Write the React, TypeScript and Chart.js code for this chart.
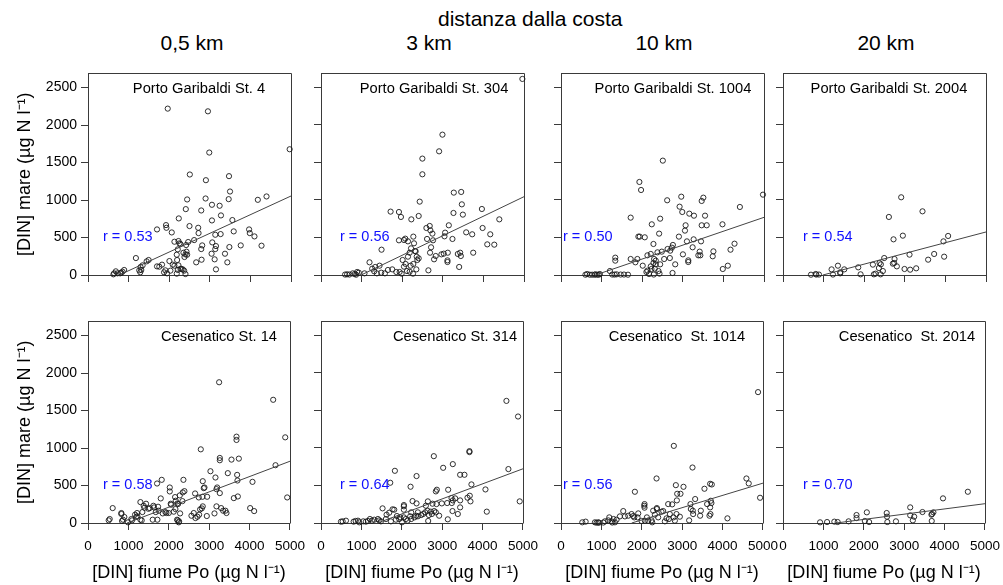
import React, { useEffect, useRef } from 'react';
import { Chart, registerables } from 'chart.js';

Chart.register(...registerables);

const FONT = "'Liberation Sans', Arial, Helvetica, sans-serif";

// ---------------- data ----------------
const headerTitle = 'distanza dalla costa';
const distanceLabels = ['0,5 km', '3 km', '10 km', '20 km'];
const stationNames = [
  'Porto Garibaldi St. 4', 'Porto Garibaldi St. 304', 'Porto Garibaldi St. 1004', 'Porto Garibaldi St. 2004',
  'Cesenatico St. 14', 'Cesenatico St. 314', 'Cesenatico  St. 1014', 'Cesenatico  St. 2014',
];
const rValues = ['0.53', '0.56', '0.50', '0.54', '0.58', '0.64', '0.56', '0.70'];
const xTickValues = [0, 1000, 2000, 3000, 4000, 5000];
const yTickValues = [0, 500, 1000, 1500, 2000, 2500];
const xAxisTitle = '[DIN] fiume Po (µg N l⁻¹)';
const yAxisTitle = '[DIN] mare (µg N l⁻¹)';
// regression lines: x where fit crosses 0, and fit value at x = 5000
const fitStartX = [770, 989, 850, 984, 966, 1400, 1750, 1312];
const fitEndY = [1054, 1043, 768, 573, 824, 722, 531, 257];

const pgSt4 = [[1964,2220],[2954,2184],[2987,1634],[4967,1678],[2508,1341],[2904,1265],[3473,1319],[3498,1114],[2896,1021],[2442,1008],[3465,1012],[4397,1048],[4183,1003],[3053,937],[3242,924],[2409,879],[2789,861],[3275,795],[3053,728],[2236,755],[3556,733],[1700,608],[1922,666],[1931,630],[2063,568],[2500,653],[2714,630],[2723,559],[3589,582],[3968,608],[3985,559],[4100,515],[4274,391],[3762,395],[3482,373],[3374,284],[3432,169],[3152,75],[3135,537],[3267,546],[3152,386],[3135,346],[3119,209],[3044,284],[3061,435],[2813,395],[2789,346],[2797,204],[2665,169],[2615,466],[2467,440],[2417,400],[2426,311],[2129,444],[2228,453],[2252,422],[2211,342],[2277,413],[2186,271],[2195,200],[2228,129],[2351,297],[2401,275],[2376,240],[2302,80],[2335,75],[2368,58],[2401,13],[2277,84],[2005,186],[2087,138],[2129,124],[2030,58],[1906,62],[1873,36],[1947,22],[2186,18],[1700,115],[1757,111],[1823,138],[1493,200],[1444,182],[1345,129],[1295,107],[1262,62],[1287,36],[1180,226],[1312,67],[850,44],[891,67],[792,22],[726,22],[644,22],[627,9],[685,49],[817,31],[2211,67],[2442,271]];

const pgSt304 = [[4960,2611],[2991,1869],[2909,1647],[2497,1550],[2497,1341],[3271,1097],[3453,1106],[3469,941],[2431,977],[3263,826],[3494,804],[3963,879],[4392,741],[1714,844],[1920,839],[1969,773],[2225,741],[2406,786],[3148,662],[2596,626],[2678,653],[2694,595],[2744,551],[3057,564],[3041,515],[3576,568],[3724,542],[3980,626],[4169,542],[4095,408],[4268,404],[1920,462],[2076,484],[2044,466],[2274,511],[2142,448],[2612,480],[2760,462],[3238,480],[1491,337],[2291,422],[2217,355],[2315,320],[2332,315],[2357,244],[2406,222],[2373,200],[2711,369],[2686,297],[2785,209],[2826,253],[2966,275],[3024,284],[3123,297],[3115,195],[3115,173],[3370,280],[3428,297],[3444,253],[3749,297],[3403,107],[2184,297],[2142,244],[2011,200],[2085,147],[2208,124],[2274,147],[2044,111],[2118,53],[2184,44],[1936,40],[1854,40],[1986,18],[2266,18],[2348,75],[2645,62],[1755,75],[1648,67],[1574,22],[1483,31],[1376,22],[1310,49],[1261,84],[1335,107],[1442,124],[1195,169],[1071,22],[931,31],[890,40],[832,13],[783,22],[700,6],[643,9],[593,6],[865,4]];

const pgSt1004 = [[2508,1523],[1931,1239],[1972,1132],[4975,1070],[2962,1043],[3506,1030],[3465,986],[2615,995],[2921,910],[2987,839],[3160,817],[3275,790],[3548,790],[4406,906],[1716,764],[2442,750],[3069,662],[3465,662],[3589,662],[2236,675],[3977,675],[3053,591],[2417,551],[1906,511],[1939,511],[2063,502],[2904,511],[3102,448],[3267,475],[3449,448],[2277,413],[2483,311],[2376,302],[2624,346],[2731,364],[2690,324],[2756,400],[2129,262],[1881,213],[1832,169],[2013,124],[2211,280],[3242,369],[3416,311],[3383,262],[3432,262],[3754,315],[3737,249],[4175,337],[4274,417],[3003,275],[3135,195],[3135,173],[2813,142],[2681,226],[3985,80],[4109,124],[1337,231],[1337,191],[2277,160],[2335,142],[2211,115],[2310,84],[2401,53],[2426,18],[2170,13],[2104,40],[2285,6],[2129,58],[2228,80],[2442,142],[2335,191],[2294,213],[1205,53],[1262,6],[1320,6],[1370,9],[1469,6],[1551,6],[1650,4],[1716,213],[644,13],[710,4],[767,4],[825,4],[891,4],[932,4],[602,4],[957,13],[850,9],[2541,213],[2747,27]];

const pgSt2004 = [[2911,1035],[3436,848],[2608,773],[2952,524],[2722,475],[4067,520],[3952,448],[3723,280],[3575,204],[3969,244],[3116,271],[3280,89],[2493,226],[2747,213],[2739,160],[2804,115],[2706,151],[2993,80],[3132,71],[2214,138],[2411,142],[2362,93],[2378,160],[2403,9],[2280,18],[2239,9],[2460,53],[1853,102],[1911,9],[1509,75],[1410,36],[1353,124],[1197,75],[1230,6],[1410,22],[886,6],[820,6],[804,13],[689,4]];

const cesSt14 = [[3246,1878],[4584,1644],[4882,1143],[3676,1152],[3676,1108],[2792,983],[3263,868],[3263,837],[3734,859],[3552,846],[4642,771],[3031,691],[3461,665],[3155,607],[3692,642],[3700,567],[4072,549],[2362,576],[2841,558],[1710,527],[1825,576],[2024,474],[2024,421],[3197,474],[3180,452],[3263,399],[2866,465],[2883,474],[4931,341],[2346,408],[2387,425],[2272,368],[1801,328],[2651,394],[2742,341],[2833,350],[2949,350],[3610,332],[3709,354],[611,199],[1165,111],[1214,133],[1346,146],[1198,84],[1396,204],[1495,190],[1528,199],[1619,230],[1735,217],[1635,208],[1751,164],[1677,146],[1850,128],[1916,146],[1941,133],[1999,133],[2057,244],[2048,257],[2123,151],[2164,186],[2156,346],[1437,257],[1297,279],[1379,230],[2230,253],[2280,128],[2222,35],[2255,22],[2205,44],[2247,9],[2338,292],[2214,261],[2172,297],[2561,97],[2618,133],[2660,66],[2709,84],[2751,111],[2817,195],[2775,182],[2841,222],[2941,93],[3131,128],[3180,222],[3296,199],[3345,164],[3403,164],[3428,133],[4014,199],[4113,159],[512,35],[537,53],[826,133],[826,120],[900,80],[867,44],[843,27],[991,9],[1090,35],[1074,53],[1297,44],[1330,35],[1602,44],[1718,44],[1222,89]];

const cesSt314 = [[4590,1626],[4878,1418],[3675,957],[3675,944],[2793,890],[3263,784],[3024,735],[3444,642],[3551,642],[4639,718],[1829,695],[2365,625],[1714,536],[2217,483],[3724,514],[4071,447],[2843,421],[2868,443],[3148,443],[4919,288],[4104,151],[2052,239],[2052,222],[2266,292],[2365,261],[2645,288],[2859,252],[2760,257],[2991,261],[3230,332],[3263,301],[3238,266],[3321,328],[3444,301],[3626,337],[3683,363],[3700,288],[3444,208],[3255,159],[3387,120],[3139,49],[3123,266],[1772,182],[1813,177],[1524,195],[1623,111],[1689,137],[1879,93],[1961,75],[2052,75],[2101,53],[2142,31],[2208,89],[2233,53],[2315,75],[2357,97],[2398,89],[2480,106],[2579,142],[2596,230],[2637,164],[2670,106],[2719,151],[2744,120],[2802,159],[2843,142],[2925,97],[2653,27],[2002,9],[1936,53],[1211,53],[1162,27],[1261,31],[1318,44],[1409,53],[1442,35],[1607,53],[1730,22],[1854,44],[1483,22],[494,18],[536,22],[618,31],[808,18],[857,27],[915,31],[948,9],[1046,22],[1112,18],[2052,177],[2233,142],[2398,142],[2530,120]];

const cesSt1014 = [[4878,1743],[2793,1027],[3255,739],[2365,593],[4590,593],[4647,527],[3692,522],[3733,513],[3551,456],[2843,504],[3032,482],[1829,416],[2876,389],[2958,389],[2868,301],[4928,336],[3321,319],[2653,252],[2752,248],[2373,199],[2373,186],[2068,252],[2060,230],[2068,204],[2282,164],[2488,150],[2530,159],[3205,252],[3214,186],[3263,164],[3271,119],[3461,164],[3444,97],[3700,119],[3675,97],[3692,208],[3617,252],[3724,266],[3708,296],[4120,62],[3172,35],[2942,84],[2859,119],[2785,75],[2694,119],[2612,62],[2670,53],[2571,22],[2818,31],[1541,159],[1664,97],[1747,119],[1788,93],[1813,75],[1895,75],[1994,27],[2076,31],[2159,31],[2241,35],[2258,9],[1582,88],[1458,88],[1376,44],[1302,53],[1195,75],[1252,22],[1170,35],[1088,22],[527,9],[610,18],[840,9],[882,4],[923,9],[939,4],[1046,6],[1269,6],[1335,9],[1912,128],[2126,75],[2406,75],[2324,111]];

const cesSt2014 = [[4576,416],[3961,328],[3149,208],[3452,146],[3723,142],[3690,120],[3674,111],[3682,27],[2567,133],[2575,84],[2583,13],[2075,142],[1820,106],[1820,66],[2025,27],[2132,13],[3149,102],[3214,35],[3247,84],[2796,22],[1624,22],[1353,13],[1271,18],[1091,13],[918,9]];

const panelData = [pgSt4, pgSt304, pgSt1004, pgSt2004, cesSt14, cesSt314, cesSt1014, cesSt2014];

// ---------------- layout / style ----------------
const PLOT_W = 203;
const PLOT_H = 202;
const colLeft = [88, 321, 561, 783];
const rowTop = [73, 321];
const stationCenterDx = [111, 113, 112, 106, 131, 134, 116, 124];
const stationDy = 16;
const rLeftDx = [15, 19, 2, 20, 15, 19, 2, 20];
const rDy = 164;
const AXIS_COLOR = '#3a3a3a';

const decorPlugin = {
  id: 'panelDecor',
  beforeDatasetsDraw(chart: any) {
    const { ctx, chartArea } = chart;
    const { left, top, right, bottom } = chartArea;
    ctx.save();
    ctx.strokeStyle = AXIS_COLOR;
    ctx.lineWidth = 1;
    ctx.beginPath();
    const t = Math.round(top) + 0.5;
    const r = Math.round(right) + 0.5;
    ctx.moveTo(Math.round(left), t);
    ctx.lineTo(r, t);
    ctx.lineTo(r, Math.round(bottom) + 0.5);
    ctx.stroke();
    ctx.restore();
  },
  afterDraw(chart: any, _args: any, opts: any) {
    const { ctx, chartArea } = chart;
    const { left, top } = chartArea;
    ctx.save();
    ctx.textBaseline = 'middle';
    ctx.font = `14.7px ${FONT}`;
    ctx.fillStyle = '#000';
    ctx.textAlign = 'center';
    ctx.fillText(opts.station, left + opts.stationDx, top + opts.stationDy);
    ctx.font = `14.5px ${FONT}`;
    ctx.fillStyle = '#1010ff';
    ctx.textAlign = 'left';
    ctx.fillText(`r = ${opts.r}`, left + opts.rDx, top + opts.rDy);
    ctx.restore();
  },
};

function Panel({ idx }: { idx: number }) {
  const ref = useRef<HTMLCanvasElement>(null);
  const row = Math.floor(idx / 4);
  const col = idx % 4;
  const yW = col === 0 ? 88 : 20;
  const xH = row === 1 ? 62 : 20;
  const padTop = 12;
  const padRight = 22;
  const canvasLeft = colLeft[col] - yW;
  const canvasTop = rowTop[row] - padTop;
  const width = yW + PLOT_W + padRight;
  const height = padTop + PLOT_H + xH;

  useEffect(() => {
    const pts = panelData[idx].map(([x, y]) => ({ x, y }));
    const fit = [
      { x: fitStartX[idx], y: 0 },
      { x: 5000, y: fitEndY[idx] },
    ];
    const chart = new Chart(ref.current as HTMLCanvasElement, {
      type: 'scatter',
      data: {
        datasets: [
          {
            type: 'line',
            data: fit,
            borderColor: '#444',
            borderWidth: 1,
            pointRadius: 0,
            fill: false,
            tension: 0,
            clip: false,
          } as any,
          {
            data: pts,
            pointStyle: 'circle',
            pointRadius: 2.6,
            pointBorderWidth: 0.9,
            borderColor: '#1a1a1a',
            backgroundColor: 'rgba(0,0,0,0)',
            pointBackgroundColor: 'rgba(0,0,0,0)',
            pointBorderColor: '#1a1a1a',
            clip: false,
          } as any,
        ],
      },
      options: {
        responsive: false,
        animation: false,
        devicePixelRatio: 1,
        events: [],
        layout: { padding: { top: padTop, right: padRight, left: 0, bottom: 0 } },
        plugins: {
          legend: { display: false },
          tooltip: { enabled: false },
          panelDecor: {
            station: stationNames[idx],
            r: rValues[idx],
            stationDx: stationCenterDx[idx],
            stationDy,
            rDx: rLeftDx[idx],
            rDy,
          },
        } as any,
        scales: {
          x: {
            type: 'linear',
            min: 0,
            max: 5000,
            afterBuildTicks: (s: any) => {
              s.ticks = xTickValues.map((v) => ({ value: v }));
            },
            afterFit: (s: any) => {
              s.height = xH;
            },
            ticks: {
              display: row === 1,
              padding: 8,
              color: '#000',
              autoSkip: false,
              maxRotation: 0,
              font: { size: 13.5, family: FONT },
              callback: (v: any) => String(v),
            },
            grid: { drawOnChartArea: false, drawTicks: true, tickLength: 7, color: AXIS_COLOR, lineWidth: 1 },
            border: { display: true, color: AXIS_COLOR, width: 1 },
            title: {
              display: row === 1,
              text: xAxisTitle,
              color: '#000',
              font: { size: 18, family: FONT },
              padding: { top: 0, bottom: 1 },
            },
          },
          y: {
            type: 'linear',
            min: 0,
            max: 2690,
            afterBuildTicks: (s: any) => {
              s.ticks = yTickValues.map((v) => ({ value: v }));
            },
            afterFit: (s: any) => {
              s.width = yW;
            },
            ticks: {
              display: col === 0,
              padding: 4,
              color: '#000',
              font: { size: 14, family: FONT },
              callback: (v: any) => String(v),
            },
            grid: { drawOnChartArea: false, drawTicks: true, tickLength: 7, color: AXIS_COLOR, lineWidth: 1 },
            border: { display: true, color: AXIS_COLOR, width: 1 },
            title: {
              display: col === 0,
              text: yAxisTitle,
              color: '#000',
              font: { size: 18, family: FONT },
              padding: { top: 14, bottom: 0 },
            },
          },
        },
      } as any,
      plugins: [decorPlugin as any],
    });
    return () => chart.destroy();
  }, [idx]);

  return (
    <canvas
      ref={ref}
      width={width}
      height={height}
      style={{ position: 'absolute', left: canvasLeft, top: canvasTop, width, height }}
    />
  );
}

const distanceCenters = [192, 429, 664, 886];

export default function App() {
  return (
    <div
      style={{
        position: 'absolute',
        left: 0,
        top: 0,
        width: 1003,
        height: 585,
        background: '#fff',
        overflow: 'hidden',
        fontFamily: FONT,
      }}
    >
      <div
        style={{
          position: 'absolute',
          left: 438,
          top: 7,
          fontSize: 21,
          lineHeight: '24px',
          whiteSpace: 'nowrap',
          color: '#000',
        }}
      >
        {headerTitle}
      </div>
      {distanceLabels.map((d, i) => (
        <div
          key={d}
          style={{
            position: 'absolute',
            left: distanceCenters[i] - 60,
            width: 120,
            top: 31,
            textAlign: 'center',
            fontSize: 21,
            lineHeight: '24px',
            whiteSpace: 'nowrap',
            color: '#000',
          }}
        >
          {d}
        </div>
      ))}
      {panelData.map((_, i) => (
        <Panel key={i} idx={i} />
      ))}
    </div>
  );
}
